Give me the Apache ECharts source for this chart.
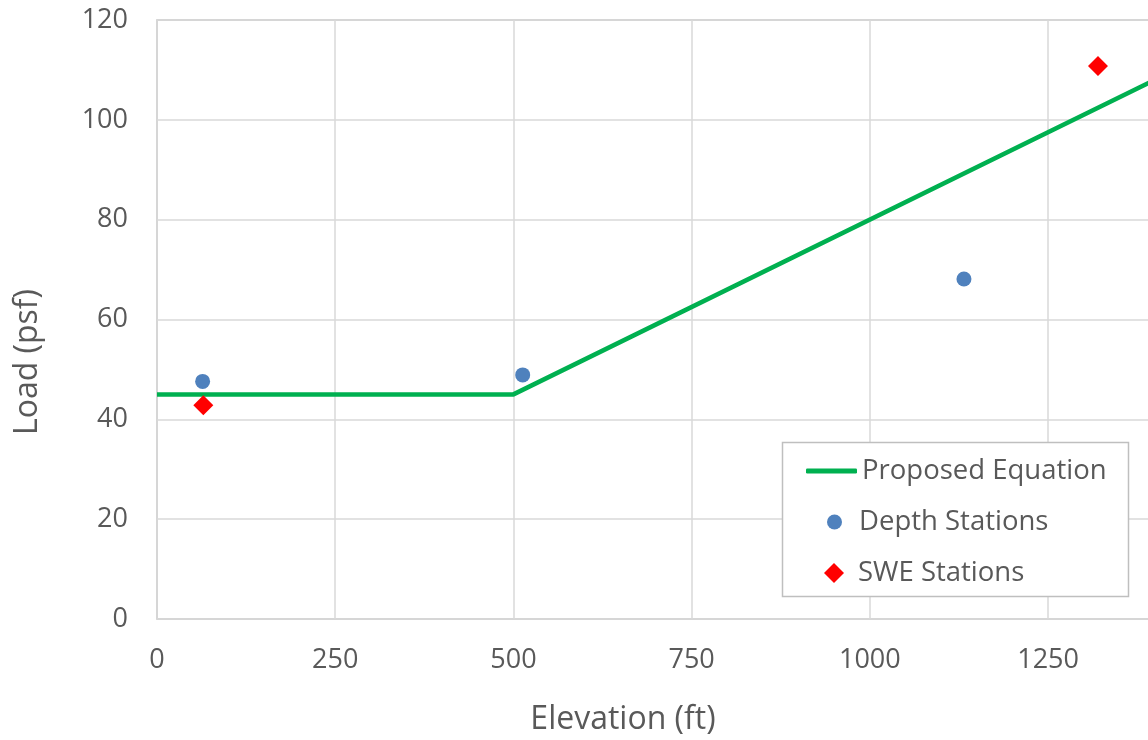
<!DOCTYPE html>
<html>
<head>
<meta charset="utf-8">
<script src="https://cdn.jsdelivr.net/npm/echarts@6/dist/echarts.min.js"></script>
<style>html,body{margin:0;padding:0;background:#fff}#c{width:1148px;height:740px}</style>
</head>
<body>
<div id="c"></div>
<script>
const xTicks = [0, 250, 500, 750, 1000, 1250, 1400];
const yTicks = [0, 20, 40, 60, 80, 100, 120];
const equationX = [0, 500, 1400];
const equationY = [45, 45, 108];
const depthX = [64, 513, 1132];
const depthY = [47.6, 48.9, 68.1];
const sweX = [65, 1320];
const sweY = [42.8, 110.8];

const font = 'Open Sans';
const txt = '#595959';
const chart = echarts.init(document.getElementById('c'));
chart.setOption({
  animation: false,
  grid: { left: 157, top: 20, width: 998, bottom: 121, outerBoundsMode: 'none', containLabel: false,
    show: true, borderColor: '#bfbfbf', borderWidth: 1.5, backgroundColor: 'transparent' },
  xAxis: {
    type: 'value', min: 0, max: 1400, interval: 250,
    axisLine: { show: false }, axisTick: { show: false },
    splitLine: { show: true, lineStyle: { color: '#d9d9d9', width: 1.5 } },
    axisLabel: { color: txt, fontFamily: font, fontSize: 27, margin: 28, showMaxLabel: false, formatter: v => String(v) }
  },
  yAxis: {
    type: 'value', min: 0, max: 120, interval: 20,
    axisLine: { show: false }, axisTick: { show: false },
    splitLine: { show: true, lineStyle: { color: '#d9d9d9', width: 1.5 } },
    axisLabel: { color: txt, fontFamily: font, fontSize: 27, margin: 29, formatter: v => String(v) }
  },
  legend: [
    { data: [{ name: 'Proposed Equation', icon: 'roundRect' }], orient: 'vertical', left: 801, top: 452, itemWidth: 51, itemHeight: 5, z: 10,
      itemStyle: { color: '#00b050' }, textStyle: { color: txt, fontFamily: font, fontSize: 27.5 } },
    { data: [{ name: 'Depth Stations', icon: 'circle' }], orient: 'vertical', left: 822, top: 503, itemWidth: 15, itemHeight: 15, z: 10,
      textStyle: { color: txt, fontFamily: font, fontSize: 27.5, padding: [0, 0, 0, 12] } },
    { data: [{ name: 'SWE Stations', icon: 'diamond' }], orient: 'vertical', left: 819, top: 554, itemWidth: 20, itemHeight: 20, z: 10,
      textStyle: { color: txt, fontFamily: font, fontSize: 27.5, padding: [0, 0, 0, 9] } }
  ],
  graphic: [
    { type: 'rect', shape: { x: 782.5, y: 442.5, width: 346, height: 154 }, style: { fill: '#fff', stroke: '#bfbfbf', lineWidth: 1.5 }, z: 5 },
    { type: 'text', x: 623, y: 720, style: { text: 'Elevation (ft)', fill: txt, font: '32px "Open Sans"', align: 'center', verticalAlign: 'middle' } },
    { type: 'text', x: 28, y: 362, rotation: Math.PI / 2, style: { text: 'Load (psf)', fill: txt, font: '32px "Open Sans"', align: 'center', verticalAlign: 'middle' } }
  ],
  series: [
    { name: 'Proposed Equation', type: 'line', data: equationX.map((x, i) => [x, equationY[i]]), showSymbol: false, symbol: 'none',
      lineStyle: { color: '#00b050', width: 4.5 }, itemStyle: { color: '#00b050' }, z: 2 },
    { name: 'Depth Stations', type: 'scatter', data: depthX.map((x, i) => [x, depthY[i]]), symbol: 'circle', symbolSize: 15,
      itemStyle: { color: '#4f81bd', opacity: 1 }, z: 3 },
    { name: 'SWE Stations', type: 'scatter', data: sweX.map((x, i) => [x, sweY[i]]), symbol: 'diamond', symbolSize: 20,
      itemStyle: { color: '#ff0000', opacity: 1 }, z: 3 }
  ]
});
</script>
</body>
</html>
